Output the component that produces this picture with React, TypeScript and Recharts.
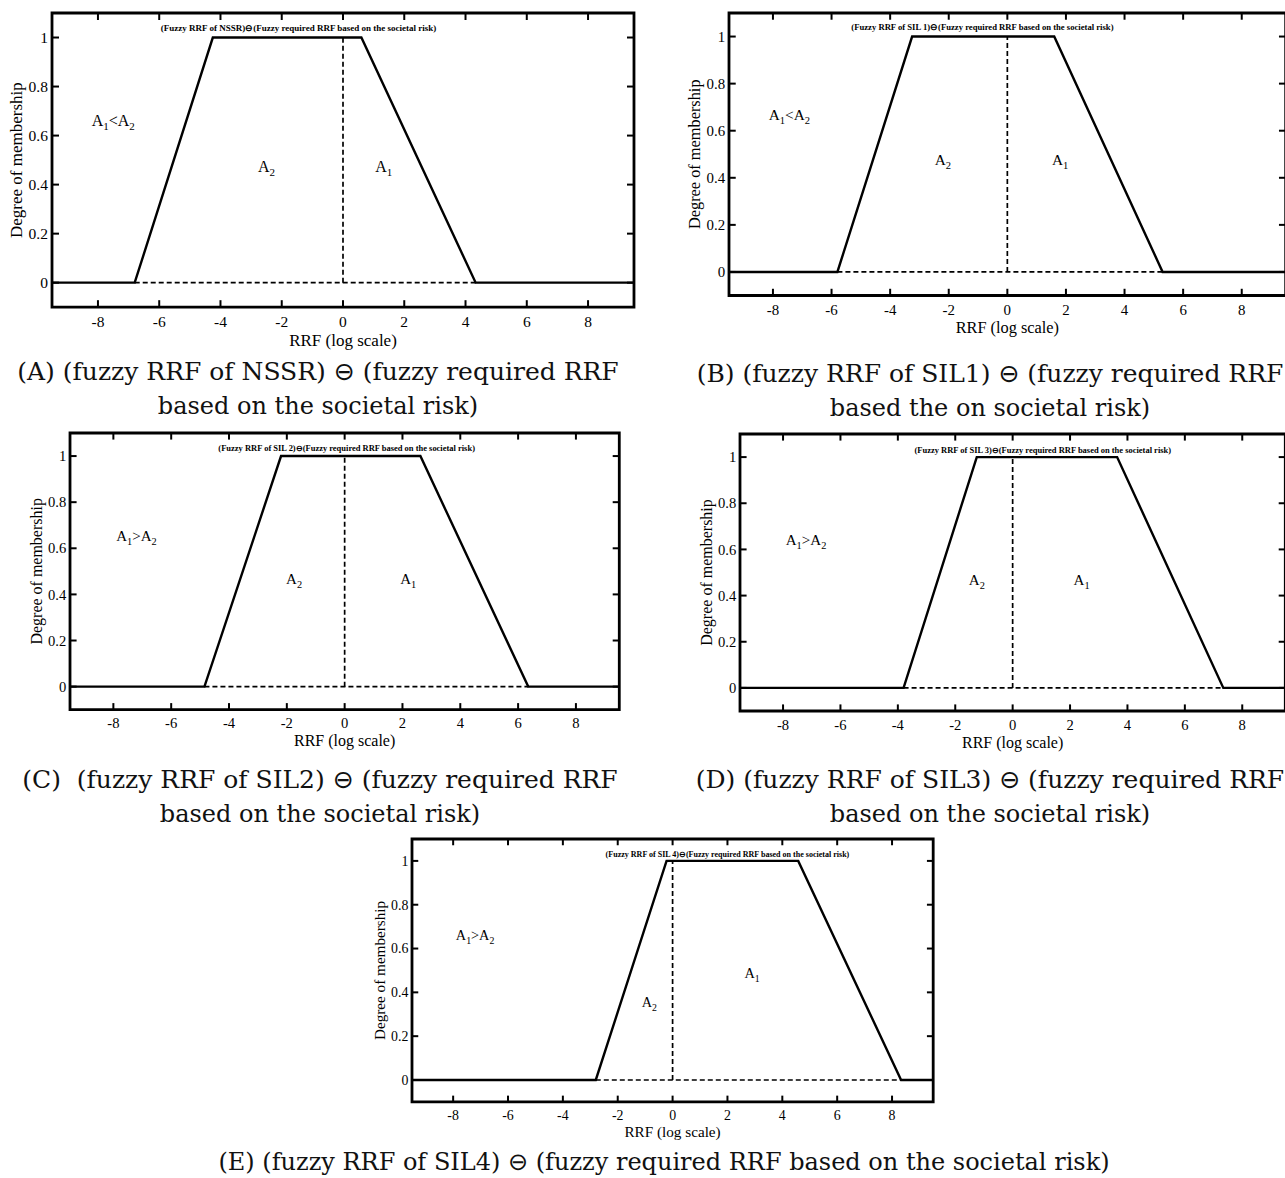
import React from 'react';
import { LineChart, Line, XAxis, YAxis, ReferenceLine, ReferenceArea, ReferenceDot } from 'recharts';

// trapezoid corners, RRF on log axis, one entry per panel A..E
const panelIds = ['A', 'B', 'C', 'D', 'E'];
const footLeft = [-6.8, -5.8, -4.85, -3.8, -2.8];
const topLeft = [-4.25, -3.25, -2.2, -1.25, -0.22];
const topRight = [0.6, 1.6, 2.62, 3.64, 4.58];
const footRight = [4.33, 5.3, 6.35, 7.34, 8.33];
const relation = ['<', '<', '>', '>', '>'];

const xTicks = [-8, -6, -4, -2, 0, 2, 4, 6, 8];
const yTicks = [0, 0.2, 0.4, 0.6, 0.8, 1];
const xDomain = [-9.5, 9.5];
const yDomain = [-0.1, 1.1];

const plotTitles = [
  '(Fuzzy RRF of NSSR)\u2296(Fuzzy required RRF based on the societal risk)',
  '(Fuzzy RRF of SIL 1)\u2296(Fuzzy required RRF based on the societal risk)',
  '(Fuzzy RRF of SIL 2)\u2296(Fuzzy required RRF based on the societal risk)',
  '(Fuzzy RRF of SIL 3)\u2296(Fuzzy required RRF based on the societal risk)',
  '(Fuzzy RRF of SIL 4)\u2296(Fuzzy required RRF based on the societal risk)',
];
// captions split around the circled minus
const captionHead = [
  '(A) (fuzzy RRF of NSSR) ',
  '(B) (fuzzy RRF of SIL1) ',
  '(C)  (fuzzy RRF of SIL2) ',
  '(D) (fuzzy RRF of SIL3) ',
  '(E) (fuzzy RRF of SIL4) ',
];
const captionTail = [
  ' (fuzzy required RRF',
  ' (fuzzy required RRF',
  ' (fuzzy required RRF',
  ' (fuzzy required RRF',
  ' (fuzzy required RRF based on the societal risk)',
];
const captionBottom = [
  'based on the societal risk)',
  'based the on societal risk)',
  'based on the societal risk)',
  'based on the societal risk)',
  '',
];

// page layout: plot box in px [left, top, right, bottom], caption centre x / line y's / font size,
// annotation anchors in data units
const layout = [
  { box: [52, 12.5, 634, 306.7], cap: [318, 372, 406, 25], rel: [-7.5, 0.64], a2: [-2.5, 0.452], a1: [1.33, 0.452], title: [-1.45, 1.039] },
  { box: [728.5, 12.5, 1285.2, 295], cap: [990, 374, 408, 25], rel: [-7.44, 0.644], a2: [-2.2, 0.453], a1: [1.8, 0.453], title: [-0.85, 1.04] },
  { box: [69.7, 433.3, 619, 710], cap: [320, 780, 814, 25], rel: [-7.2, 0.63], a2: [-1.75, 0.445], a1: [2.2, 0.445], title: [0.07, 1.034] },
  { box: [740, 434, 1285.3, 711], cap: [990, 780, 814, 25], rel: [-7.2, 0.62], a2: [-1.25, 0.446], a1: [2.4, 0.446], title: [1.05, 1.03] },
  { box: [411.6, 838.8, 932.8, 1101.7], cap: [664, 1162, 0, 24], rel: [-7.2, 0.638], a2: [-0.85, 0.333], a1: [2.9, 0.465], title: [2.0, 1.03] },
];

const SERIF = '"Liberation Serif", "Times New Roman", serif';
const CAPTION_FONT = '"DejaVu Serif", serif';
const YW = 60;
const XH = 48;
const MT = 4;
const MR = 4;

const XTick = (props: any) => {
  const { x, y, payload, plotH, s } = props;
  const t = 7 * s;
  return (
    <g>
      <line x1={x} y1={y} x2={x} y2={y - t} stroke="#000" strokeWidth={2} />
      <line x1={x} y1={y - plotH} x2={x} y2={y - plotH + t} stroke="#000" strokeWidth={2} />
      <text x={x} y={y + 14.5 * s} dy="0.35em" textAnchor="middle" fontSize={15.5 * s} fontFamily={SERIF} fill="#000">
        {payload.value}
      </text>
    </g>
  );
};

const YTick = (props: any) => {
  const { x, y, payload, plotW, s } = props;
  const t = 7 * s;
  return (
    <g>
      <line x1={x} y1={y} x2={x + t} y2={y} stroke="#000" strokeWidth={2} />
      <line x1={x + plotW} y1={y} x2={x + plotW - t} y2={y} stroke="#000" strokeWidth={2} />
      <text x={x - 4 * s} y={y} dy="0.35em" textAnchor="end" fontSize={15.5 * s} fontFamily={SERIF} fill="#000">
        {payload.value}
      </text>
    </g>
  );
};

// "A1<A2" style text with subscripts
const annot = (parts: string[], s: number) => (props: any) => {
  const { viewBox } = props;
  const fs = 16 * s;
  const sub = 11 * s;
  return (
    <text x={viewBox.x} y={viewBox.y} dy="0.35em" textAnchor="middle" fontFamily={SERIF} fontSize={fs} fill="#000">
      {parts.map((p, i) =>
        i % 2 === 0 ? (
          <tspan key={i} fontSize={fs} dy={i === 0 ? 0 : -4 * s}>{p}</tspan>
        ) : (
          <tspan key={i} fontSize={sub} dy={4 * s}>{p}</tspan>
        )
      )}
    </text>
  );
};

const titleLabel = (text: string, s: number) => (props: any) => {
  const { viewBox } = props;
  return (
    <text x={viewBox.x} y={viewBox.y} dy="0.35em" textAnchor="middle" fontFamily={SERIF} fontWeight="bold" fontSize={9 * s} fill="#000">
      {text}
    </text>
  );
};

function Panel({ i }: { i: number }) {
  const L = layout[i];
  const [bl, bt, br, bb] = L.box;
  const plotW = br - bl;
  const plotH = bb - bt;
  const s = plotH / 294;
  const data = [
    { x: xDomain[0], y: 0 },
    { x: footLeft[i], y: 0 },
    { x: topLeft[i], y: 1 },
    { x: topRight[i], y: 1 },
    { x: footRight[i], y: 0 },
    { x: xDomain[1], y: 0 },
  ];
  const labelStyle = { fontFamily: SERIF, fontSize: 17 * s, fill: '#000', textAnchor: 'middle' as const };
  return (
    <div style={{ position: 'absolute', left: bl - YW, top: bt - MT }}>
      <LineChart
        width={plotW + YW + MR}
        height={plotH + MT + XH}
        data={data}
        margin={{ top: MT, right: MR, left: 0, bottom: 0 }}
      >
        <XAxis
          type="number"
          dataKey="x"
          domain={xDomain}
          ticks={xTicks}
          interval={0}
          height={XH}
          tickSize={0}
          tickMargin={0}
          tickLine={false}
          axisLine={false}
          tick={<XTick plotH={plotH} s={s} />}
          label={{ value: 'RRF (log scale)', position: 'insideBottom', offset: XH - 39 * s, style: labelStyle }}
        />
        <YAxis
          type="number"
          domain={yDomain}
          ticks={yTicks}
          interval={0}
          width={YW}
          tickSize={0}
          tickMargin={0}
          tickLine={false}
          axisLine={false}
          tick={<YTick plotW={plotW} s={s} />}
          label={{ value: 'Degree of membership', angle: -90, position: 'insideLeft', offset: YW - 36 * s, style: labelStyle }}
        />
        <ReferenceArea x1={xDomain[0]} x2={xDomain[1]} y1={yDomain[0]} y2={yDomain[1]} fill="none" stroke="#000" strokeWidth={2.8} />
        <ReferenceLine
          segment={[{ x: footLeft[i], y: 0 }, { x: footRight[i], y: 0 }]}
          stroke="#000"
          strokeWidth={1.7}
          strokeDasharray="5 3"
        />
        <ReferenceLine
          segment={[{ x: 0, y: 0 }, { x: 0, y: 1 }]}
          stroke="#000"
          strokeWidth={1.7}
          strokeDasharray="5 3"
        />
        <Line
          type="linear"
          dataKey="y"
          stroke="#000"
          strokeWidth={2.4}
          dot={false}
          activeDot={false}
          isAnimationActive={false}
        />
        <ReferenceDot x={L.title[0]} y={L.title[1]} r={0} fill="none" stroke="none" label={titleLabel(plotTitles[i], s)} />
        <ReferenceDot x={L.rel[0]} y={L.rel[1]} r={0} fill="none" stroke="none" label={annot(['A', '1', relation[i] + 'A', '2'], s)} />
        <ReferenceDot x={L.a2[0]} y={L.a2[1]} r={0} fill="none" stroke="none" label={annot(['A', '2'], s)} />
        <ReferenceDot x={L.a1[0]} y={L.a1[1]} r={0} fill="none" stroke="none" label={annot(['A', '1'], s)} />
      </LineChart>
    </div>
  );
}

function Caption({ i }: { i: number }) {
  const [cx, y1, y2, fs] = layout[i].cap;
  const box = (cy: number, size: number) => ({
    position: 'absolute' as const,
    left: cx - 500,
    width: 1000,
    top: cy - 13,
    height: 26,
    lineHeight: '26px',
    textAlign: 'center' as const,
    whiteSpace: 'pre' as const,
    fontFamily: CAPTION_FONT,
    fontSize: size,
    color: '#111',
  });
  return (
    <>
      <div style={box(y1, fs)}>
        {captionHead[i]}
        <span style={{ fontFamily: '"DejaVu Sans", sans-serif' }}>{'\u2296'}</span>
        {captionTail[i]}
      </div>
      {captionBottom[i] && <div style={box(y2, fs - 1)}>{captionBottom[i]}</div>}
    </>
  );
}

export default function App() {
  return (
    <div style={{ position: 'absolute', left: 0, top: 0, width: 1285, height: 1178, overflow: 'hidden', background: '#fff' }}>
      {panelIds.map((id, i) => (
        <Panel key={id} i={i} />
      ))}
      {panelIds.map((id, i) => (
        <Caption key={'c' + id} i={i} />
      ))}
    </div>
  );
}
